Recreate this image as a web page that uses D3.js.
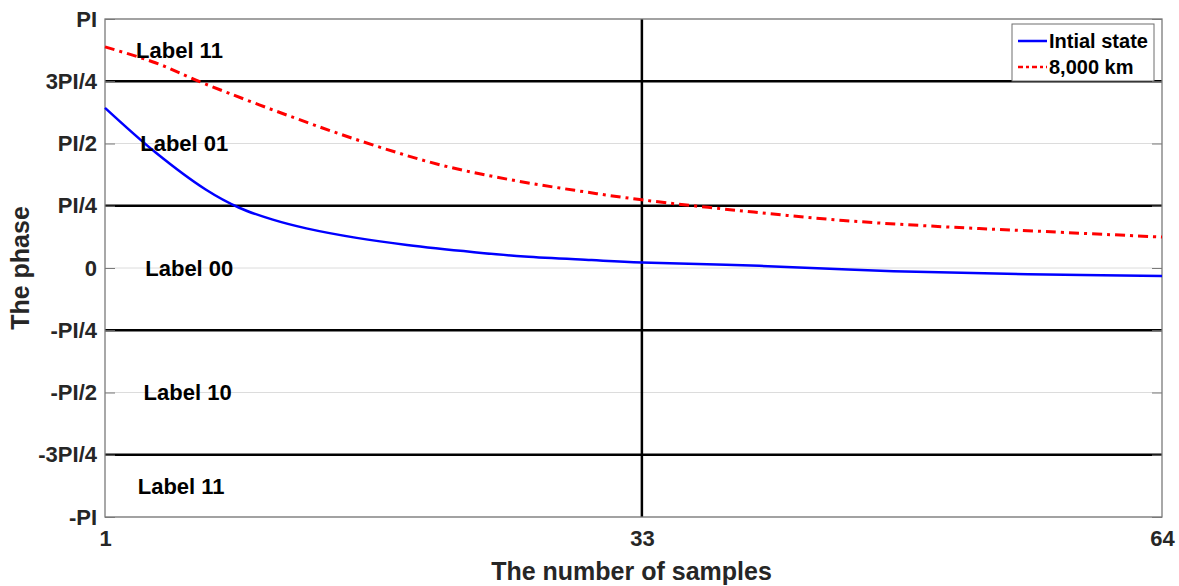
<!DOCTYPE html>
<html>
<head>
<meta charset="utf-8">
<title>The phase</title>
<script src="https://d3js.org/d3.v7.min.js"></script>
<style>
  body { margin: 0; background: #fff; }
  text { font-family: "Liberation Sans", Arial, sans-serif; font-weight: bold; }
</style>
</head>
<body>
<script>
// samples (x) and phase in radians (y)
const blueSamples = [1, 4, 7, 9, 11, 13, 16, 19, 23, 26, 30, 33, 40, 48, 56, 64];
const blueValues  = [2.02, 1.46, 0.99, 0.76, 0.61, 0.50, 0.38, 0.29, 0.20, 0.145, 0.10, 0.07, 0.027, -0.04, -0.08, -0.10];
const redSamples  = [1, 4, 7, 13, 17, 21, 25, 29, 33, 39, 45, 51, 56, 64];
const redValues   = [2.79, 2.59, 2.32, 1.84, 1.55, 1.30, 1.12, 0.98, 0.86, 0.72, 0.60, 0.52, 0.47, 0.39];
const seriesNames = ["Intial state", "8,000 km"];

const yTickValues = [-4, -3, -2, -1, 0, 1, 2, 3, 4].map(k => k * Math.PI / 4);
const yTickLabels = ["-PI", "-3PI/4", "-PI/2", "-PI/4", "0", "PI/4", "PI/2", "3PI/4", "PI"];
const xTickValues = [1, 33, 64];
const boundaryLines = [-3, -1, 1, 3].map(k => k * Math.PI / 4);

const regionNames   = ["Label 11", "Label 01", "Label 00", "Label 10", "Label 11"];
const regionPhase   = [7 * Math.PI / 8, Math.PI / 2, 0, -Math.PI / 2, -7 * Math.PI / 8];
const regionSample  = [2.85, 3.1, 3.4, 3.3, 2.95];

const W = 1179, H = 586;
const margin = {left: 105, right: 17, top: 19, bottom: 69};

const svg = d3.select("body").append("svg")
  .attr("width", W).attr("height", H);

const x = d3.scaleLinear().domain([1, 64]).range([margin.left, W - margin.right]);
const y = d3.scaleLinear().domain([-Math.PI, Math.PI]).range([H - margin.bottom, margin.top]);

// light grid
svg.append("g").selectAll("line").data(yTickValues).join("line")
  .attr("x1", x(1)).attr("x2", x(64))
  .attr("y1", d => y(d)).attr("y2", d => y(d))
  .attr("stroke", "#dcdcdc").attr("stroke-width", 1);

// boundaries
svg.append("g").selectAll("line").data(boundaryLines).join("line")
  .attr("x1", x(1)).attr("x2", x(64))
  .attr("y1", d => y(d)).attr("y2", d => y(d))
  .attr("stroke", "#000").attr("stroke-width", 2.5);
svg.append("line")
  .attr("x1", x(33)).attr("x2", x(33))
  .attr("y1", y(Math.PI)).attr("y2", y(-Math.PI))
  .attr("stroke", "#000").attr("stroke-width", 2.5);

// axes
const yAxis = d3.axisLeft(y).tickValues(yTickValues)
  .tickFormat((d, i) => yTickLabels[i]).tickSizeInner(-10).tickSizeOuter(0).tickPadding(8);
const gy = svg.append("g").attr("transform", `translate(${margin.left},0)`).call(yAxis);
gy.selectAll("text").style("font-size", "22px").attr("fill", "#262626");

const yAxisR = d3.axisRight(y).tickValues(yTickValues).tickFormat("").tickSizeInner(-10).tickSizeOuter(0);
svg.append("g").attr("transform", `translate(${W - margin.right},0)`).call(yAxisR);

const xAxis = d3.axisBottom(x).tickValues(xTickValues).tickSizeInner(0).tickSizeOuter(0).tickPadding(13);
const gx = svg.append("g").attr("transform", `translate(0,${H - margin.bottom})`).call(xAxis);
gx.selectAll("text").style("font-size", "22px").attr("fill", "#262626");

svg.selectAll(".domain").attr("stroke", "none");
svg.selectAll(".tick line").attr("stroke", "#7a7a7a");

// box
svg.append("rect")
  .attr("x", x(1)).attr("y", y(Math.PI))
  .attr("width", x(64) - x(1)).attr("height", y(-Math.PI) - y(Math.PI))
  .attr("fill", "none").attr("stroke", "#7a7a7a").attr("stroke-width", 1.3);

// curves
const line = d3.line().x(d => x(d[0])).y(d => y(d[1])).curve(d3.curveCatmullRom);
svg.append("path")
  .datum(redSamples.map((s, i) => [s, redValues[i]]))
  .attr("d", line).attr("fill", "none").attr("stroke", "#ff0000")
  .attr("stroke-width", 3).attr("stroke-dasharray", "10,5,3,5");
svg.append("path")
  .datum(blueSamples.map((s, i) => [s, blueValues[i]]))
  .attr("d", line).attr("fill", "none").attr("stroke", "#0000ff")
  .attr("stroke-width", 2.5);

// region labels
svg.append("g").selectAll("text").data(regionNames).join("text")
  .attr("x", (d, i) => x(regionSample[i]))
  .attr("y", (d, i) => y(regionPhase[i]))
  .attr("dy", "0.35em")
  .style("font-size", "22px").attr("fill", "#000")
  .text(d => d);

// axis titles
svg.append("text").attr("x", (x(1) + x(64)) / 2 - 2).attr("y", 580)
  .attr("text-anchor", "middle").style("font-size", "25px").attr("fill", "#262626")
  .text("The number of samples");
svg.append("text")
  .attr("transform", `translate(29,${y(0)}) rotate(-90)`)
  .attr("text-anchor", "middle").style("font-size", "25px").attr("fill", "#262626")
  .text("The phase");

// legend
const lg = svg.append("g").attr("transform", "translate(1012,24)");
lg.append("rect").attr("width", 142).attr("height", 57)
  .attr("fill", "#fff").attr("stroke", "#6e6e6e").attr("stroke-width", 1);
lg.append("line").attr("x1", 6).attr("x2", 35).attr("y1", 17).attr("y2", 17)
  .attr("stroke", "#0000ff").attr("stroke-width", 2.5);
lg.append("line").attr("x1", 6).attr("x2", 35).attr("y1", 43).attr("y2", 43)
  .attr("stroke", "#ff0000").attr("stroke-width", 2.5).attr("stroke-dasharray", "5,3,3,3");
lg.selectAll("text.lt").data(seriesNames).join("text").attr("class", "lt")
  .attr("x", 37).attr("y", (d, i) => 17 + i * 26).attr("dy", "0.35em")
  .style("font-size", "20px").attr("fill", "#000").text(d => d);
</script>
</body>
</html>
